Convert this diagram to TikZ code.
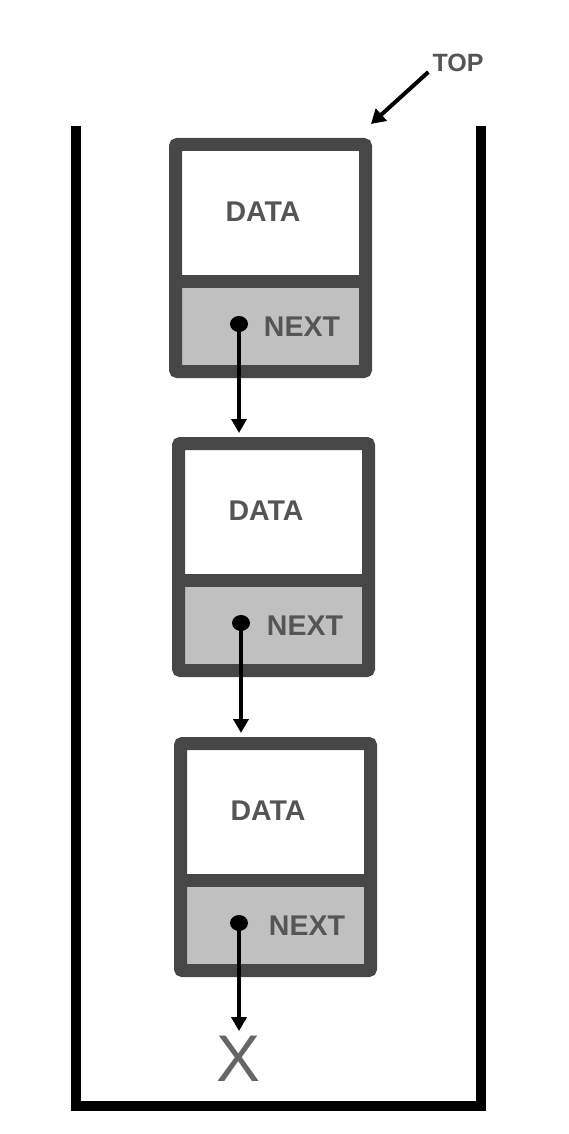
\documentclass[tikz,border=0pt]{standalone}
\usepackage{fontspec}
\setmainfont{Liberation Sans}
\usetikzlibrary{arrows.meta}
\definecolor{boxgray}{HTML}{474747}
\definecolor{fillgray}{HTML}{C0C0C0}
\definecolor{txtgray}{HTML}{555555}
\definecolor{xgray}{HTML}{666666}
\tikzset{
  nodebox/.style={draw=boxgray, line width=13pt, minimum width=190pt, minimum height=227pt, rounded corners=2pt, inner sep=0pt},
  lbl/.style={font=\bfseries\fontsize{28.5}{28.5}\selectfont, text=txtgray, inner sep=0pt},
  ptr/.style={line width=3.5pt, -{Triangle[width=15pt,length=14pt]}},
  dotnode/.style={ellipse, fill=black, minimum width=18pt, minimum height=16pt, inner sep=0pt},
  wall/.style={line width=10pt, line join=miter}
}
\usetikzlibrary{shapes.geometric}
\begin{document}
\begin{tikzpicture}[x=1pt,y=-1pt]
\useasboundingbox (0,0) rectangle (568,1134);
% container
\draw[wall] (76,126) -- (76,1106) -- (481,1106) -- (481,126);
% boxes
\foreach \i/\L/\T/\D in {1/169/138/239,2/172/437/241,3/174/737/239}{
  \fill[fillgray] (\L+6.5,\T+143.5) rectangle (\L+196.5,\T+233.5);
  \node[nodebox] (b\i) at (\L+101.5,\T+120) {};
  \draw[boxgray, line width=13pt] (\L+6.5,\T+143.5) -- (\L+196.5,\T+143.5);
  \node[lbl] (d\i) at (\L+94,\T+74) {DATA};
  \node[lbl] (n\i) at (\L+133,\T+189) {NEXT};
  \node[dotnode] (p\i) at (\D,\T+186) {};
}
% null marker
\node[font=\fontsize{66}{66}\selectfont, text=xgray, inner sep=0pt] (x) at (239,1059) {X};
% pointers
\draw[ptr, shorten >=4pt] (p1.center) -- (p1.center |- b2.north);
\draw[ptr, shorten >=4pt] (p2.center) -- (p2.center |- b3.north);
\draw[ptr, shorten >=5pt] (p3.center) -- (p3.center |- x.north);
% TOP label
\node[font=\bfseries\fontsize{25}{25}\selectfont, text=txtgray, inner sep=0pt] (top) at (458,63) {TOP};
\coordinate (ta) at (371,124);
\draw[line width=4pt, -{Triangle[width=16pt,length=14pt]}] ([xshift=-4pt]top.south west) -- (ta);
\end{tikzpicture}
\end{document}
